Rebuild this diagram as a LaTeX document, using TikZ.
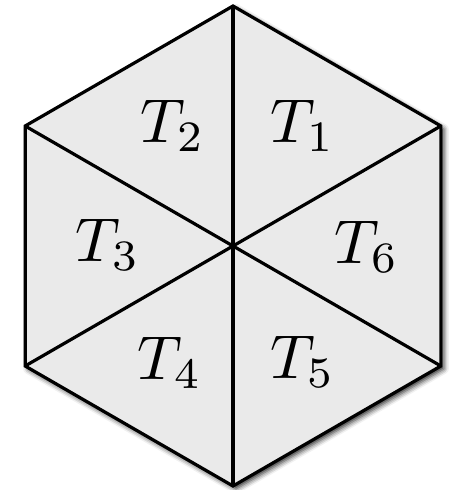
\documentclass[tikz,border=0pt]{standalone}
\usetikzlibrary{calc,shadows.blur}
\definecolor{hexfill}{RGB}{234,234,234}
\tikzset{
  edge/.style={line width=3.2pt, line join=miter, black},
  lab/.style={scale=6.2, inner sep=0pt}
}
\begin{document}
\begin{tikzpicture}[x=1pt,y=1pt]
\useasboundingbox (0,0) rectangle (450,490);
\coordinate (O) at (233,244);
\foreach \i/\a in {1/90,2/150,3/210,4/270,5/330,6/30} {
  \coordinate (V\i) at ($(O)+(\a:240)$);
}
\fill[hexfill, blur shadow={shadow xshift=3pt, shadow yshift=-3pt, shadow blur radius=5pt, shadow opacity=85}]
  (V1) -- (V2) -- (V3) -- (V4) -- (V5) -- (V6) -- cycle;
\draw[edge] (V1) -- (V2) -- (V3) -- (V4) -- (V5) -- (V6) -- cycle;
\draw[edge] (V1) -- (V4);
\draw[edge] (V2) -- (V5);
\draw[edge] (V3) -- (V6);
\node[lab] (t1) at (303,364) {$T_1$};
\node[lab] (t2) at (173,364) {$T_2$};
\node[lab] (t3) at (108,245) {$T_3$};
\node[lab] (t6) at (367,243) {$T_6$};
\node[lab] (t4) at (170,127) {$T_4$};
\node[lab] (t5) at (303,128) {$T_5$};
\end{tikzpicture}
\end{document}
